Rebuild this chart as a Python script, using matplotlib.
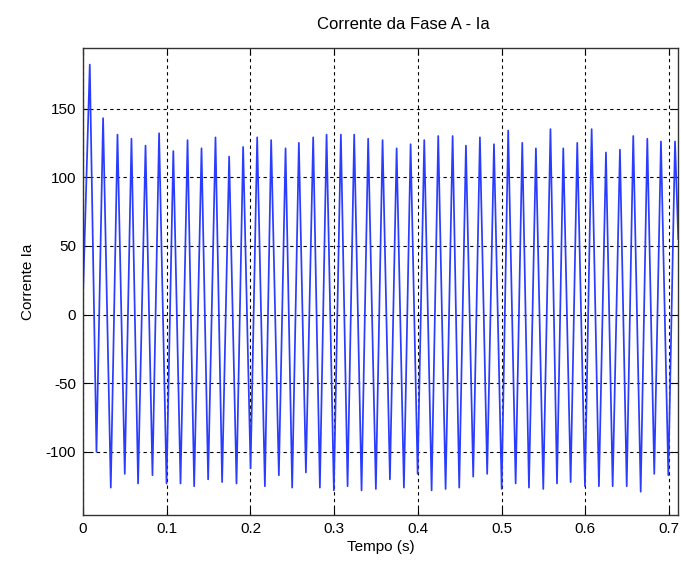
import matplotlib.pyplot as plt

# Picos da corrente Ia (tempo em s, corrente em A)
tempo = [0.0000, 0.0080, 0.0160, 0.0239, 0.0331, 0.0411, 0.0498, 0.0578, 0.0657, 0.0746,
         0.0829, 0.0908, 0.0997, 0.1078, 0.1164, 0.1248, 0.1327, 0.1415, 0.1494, 0.1582,
         0.1661, 0.1745, 0.1833, 0.1912, 0.2001, 0.2080, 0.2172, 0.2247, 0.2339, 0.2419,
         0.2498, 0.2578, 0.2662, 0.2749, 0.2829, 0.2909, 0.2996, 0.3080, 0.3160, 0.3239,
         0.3327, 0.3406, 0.3498, 0.3578, 0.3666, 0.3746, 0.3833, 0.3913, 0.3997, 0.4076,
         0.4164, 0.4243, 0.4331, 0.4415, 0.4494, 0.4574, 0.4661, 0.4741, 0.4828, 0.4909,
         0.5001, 0.5079, 0.5168, 0.5247, 0.5327, 0.5410, 0.5498, 0.5584, 0.5662, 0.5737,
         0.5825, 0.5904, 0.5996, 0.6076, 0.6163, 0.6247, 0.6327, 0.6414, 0.6495, 0.6573,
         0.6662, 0.6741, 0.6824, 0.6904, 0.6992, 0.7072, 0.7111]

corrente = [16, 182, -100, 143, -126, 131, -116, 128, -123, 123,
            -117, 132, -123, 119, -123, 127, -125, 121, -120, 129,
            -122, 115, -123, 122, -112, 129, -125, 127, -117, 121,
            -126, 125, -115, 129, -126, 131, -128, 131, -125, 131,
            -128, 128, -127, 127, -120, 121, -126, 124, -116, 127,
            -128, 130, -127, 130, -126, 123, -118, 129, -116, 124,
            -127, 134, -123, 125, -126, 121, -127, 135, -123, 121,
            -122, 125, -125, 135, -125, 118, -125, 120, -125, 130,
            -129, 128, -116, 126, -117, 126, 55]

xticks = [0, 0.1, 0.2, 0.3, 0.4, 0.5, 0.6, 0.7]
yticks = [-100, -50, 0, 50, 100, 150]

plt.rcParams['font.family'] = ['Liberation Sans', 'DejaVu Sans']
plt.rcParams['axes.unicode_minus'] = False  # hifen simples como no MATLAB

fig = plt.figure(figsize=(6.81, 5.66), dpi=100)
ax = fig.add_axes([0.122, 0.090, 0.874, 0.825])

ax.plot(tempo, corrente, color='#2a3cff', linewidth=1.25)

ax.set_xlim(0, 0.7111)
ax.set_ylim(-146, 194)
ax.set_xticks(xticks)
ax.set_xticklabels(['0', '0.1', '0.2', '0.3', '0.4', '0.5', '0.6', '0.7'])
ax.set_yticks(yticks)

ax.grid(True, color='black', linestyle=(0, (3, 3)), linewidth=0.8)
ax.tick_params(direction='in', top=True, right=True, labelsize=11, length=5, pad=5)
for s in ax.spines.values():
    s.set_color('#333333')
    s.set_linewidth(1.0)

ax.set_title('Corrente da Fase A - Ia', fontsize=12, x=0.538, pad=14)
ax.set_xlabel('Tempo (s)', fontsize=11, labelpad=3)
ax.set_ylabel('Corrente Ia', fontsize=11, labelpad=8)

fig.savefig('out.png', dpi=100)
